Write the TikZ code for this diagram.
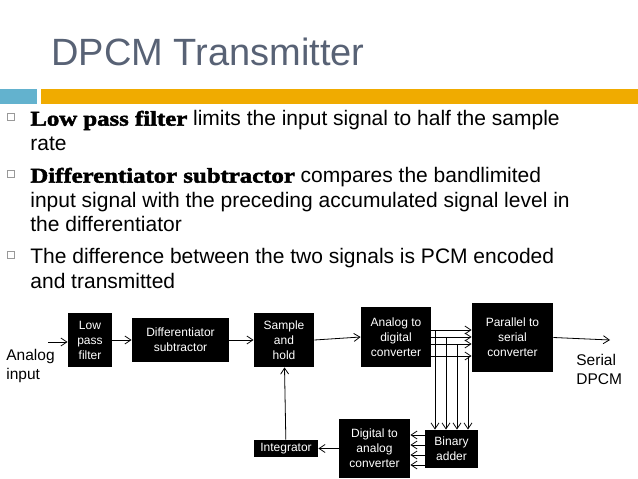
\documentclass[tikz,border=0pt]{standalone}
\usepackage{fontspec}
\setsansfont{Liberation Sans}
\newfontfamily\heavyfont{Liberation Serif}[FakeBold=2.2,FakeStretch=1.18]
\usetikzlibrary{arrows.meta}
\definecolor{titlegray}{RGB}{88,98,117}
\definecolor{barblue}{RGB}{99,178,206}
\definecolor{barorange}{RGB}{240,171,0}
\newcommand{\hv}[1]{{\heavyfont\bfseries #1}}

\begin{document}
\begin{tikzpicture}[x=1pt,y=-1pt,line width=0.8pt,
  >={Straight Barb[length=6pt,width=8pt]},
  blk/.style={fill=black,text=white,inner sep=0pt,align=center,
    font=\sffamily\fontsize{12}{15}\selectfont},
  lbl/.style={inner sep=0pt,align=left,anchor=north west,
    font=\sffamily\fontsize{15.5}{19}\selectfont},
  txt/.style={inner sep=0pt,align=left,anchor=north west,
    font=\sffamily\fontsize{21}{24.5}\selectfont},
  bul/.style={draw=gray!80,line width=0.6pt,minimum size=7pt,inner sep=0pt}]
  \useasboundingbox (0,0) rectangle (638,479);
  \node[anchor=base west,inner sep=0pt,text=titlegray,
    font=\sffamily\fontsize{38}{40}\selectfont] (title) at (51,65) {DPCM Transmitter};
  \fill[barblue]   ( 0,89) rectangle ( 37,104);
  \fill[barorange] (41,89) rectangle (638,104);
  \node[bul] (sq1) at (11,116.5) {};
  \node[bul] (sq2) at (11,173.5) {};
  \node[bul] (sq3) at (11,254.5) {};
  \node[txt] (t1) at (30,110) {\hv{Low pass filter} limits the input signal to half the sample\\rate};
  \node[txt] (t2) at (30,167) {\hv{Differentiator subtractor} compares the bandlimited\\input signal with the preceding accumulated signal level in\\the differentiator};
  \node[txt] (t3) at (30,248) {The difference between the two signals is PCM encoded\\and transmitted};
  \node[blk,minimum width=44pt,minimum height=54pt] (lpf) at ( 90.0,340.0) {Low\\pass\\filter};
  \node[blk,minimum width=97pt,minimum height=44pt] (dif) at (180.5,340.0) {Differentiator\\subtractor};
  \node[blk,minimum width=60pt,minimum height=54pt] (sah) at (284.0,340.0) {Sample\\and\\hold};
  \node[blk,minimum width=70pt,minimum height=60pt] (adc) at (396.0,337.0) {Analog to\\digital\\converter};
  \node[blk,minimum width=81pt,minimum height=69pt] (pts) at (512.5,337.5) {Parallel to\\serial\\converter};
  \node[blk,minimum width=53pt,minimum height=38pt] (add) at (451.5,449.0) {Binary\\adder};
  \node[blk,minimum width=71pt,minimum height=59pt] (dac) at (374.5,448.5) {Digital to\\analog\\converter};
  \node[blk,minimum width=64pt,minimum height=17pt] (int) at (286.0,448.5) {Integrator};
  \node[lbl] (ain)  at (  6,349) {Analog\\input};
  \node[lbl] (sout) at (576,354) {Serial\\DPCM};
  \coordinate (in)  at ( 48,342);
  \coordinate (out) at (610,340);
  \draw[->] (in) -- (lpf.west |- in);
  \draw[->] (lpf) -- (dif);
  \draw[->] (dif) -- (sah);
  \draw[->] (sah.east) -- (adc.west);
  \draw[->] (pts.east) -- (out);
  \draw[->] (int) -- (sah);
  \draw[->] (dac) -- (int);
  \foreach \y/\x in {330/435,337/446,344/457,356/468}{
    \draw[->] (adc.east |- 0,\y) -- (pts.west |- 0,\y);
    \draw[->] (\x,\y) -- (add.north -| \x,0);
  }
  \foreach \y in {435,445,455,465}
    \draw[->] (add.west |- 0,\y) -- (dac.east |- 0,\y);
\end{tikzpicture}
\end{document}
